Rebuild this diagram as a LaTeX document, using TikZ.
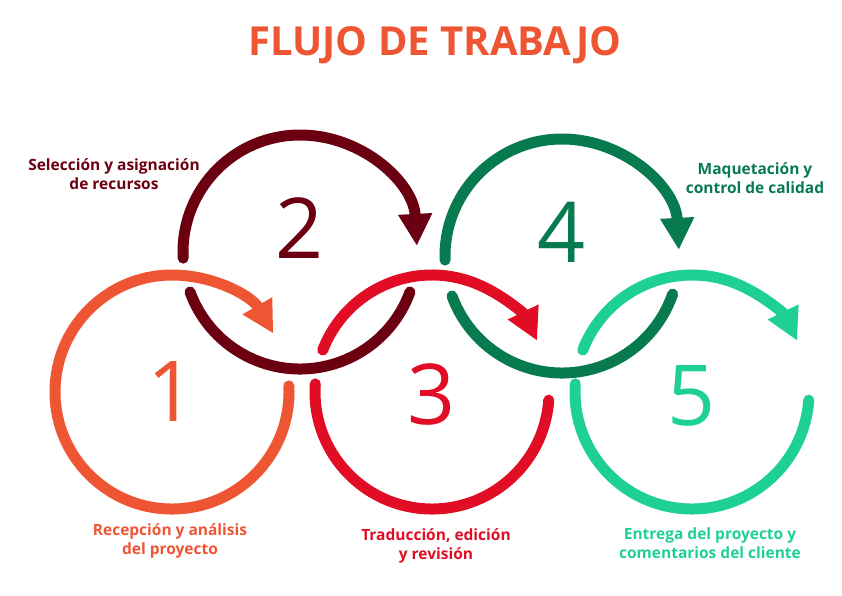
\documentclass[tikz,border=0pt]{standalone}
\usepackage{fontspec}
\setmainfont{Open Sans}
\usetikzlibrary{arrows.meta,calc}
\definecolor{cA}{HTML}{EE5533}
\definecolor{cB}{HTML}{6A0010}
\definecolor{cC}{HTML}{E00D24}
\definecolor{cD}{HTML}{087A50}
\definecolor{cE}{HTML}{1ED193}
\begin{document}
\begin{tikzpicture}[x=1pt,y=-1pt,
  ring/.style={line width=11pt,line cap=round},
  arr/.style={ring,-{Triangle[width=32pt,length=32pt]}},
  num/.style={font=\fontsize{84}{84}\selectfont},
  lab/.style={font=\fontsize{15.5}{19}\selectfont\bfseries,align=center}]
\useasboundingbox (0,0) rectangle (842,595);
\node[font=\fontsize{40}{42}\selectfont\bfseries,text=cA] (title) at (435,45) {FLUJO DE TRABAJO};
% centers
\coordinate (c1) at (172,392);
\coordinate (c2) at (300,252);
\coordinate (c3) at (432,392);
\coordinate (c4) at (562,256);
\coordinate (c5) at (692,392);
\def\R{117}
% circle 1
\draw[arr,cA] ($(c1)+(-3:\R)$) arc[start angle=-3,end angle=330,radius=\R];
% circle 2
\draw[arr,cB] ($(c2)+(177:\R)$) arc[start angle=177,end angle=357,radius=\R];
\draw[ring,cB] ($(c2)+(160:\R)$) arc[start angle=160,end angle=20,radius=\R];
% circle 3
\draw[arr,cC] ($(c3)+(201:\R)$) arc[start angle=201,end angle=334,radius=\R];
\draw[ring,cC] ($(c3)+(184:\R)$) arc[start angle=184,end angle=4,radius=\R];
% circle 4
\draw[arr,cD] ($(c4)+(178:\R)$) arc[start angle=178,end angle=357,radius=\R];
\draw[ring,cD] ($(c4)+(160:\R)$) arc[start angle=160,end angle=19,radius=\R];
% circle 5
\draw[arr,cE] ($(c5)+(201:\R)$) arc[start angle=201,end angle=334,radius=\R];
\draw[ring,cE] ($(c5)+(184:\R)$) arc[start angle=184,end angle=4,radius=\R];
% numbers
\node[num,text=cA] (n1) at (172,392) {1};
\node[num,text=cB] (n2) at (300,228) {2};
\node[num,text=cC] (n3) at (432,394) {3};
\node[num,text=cD] (n4) at (562,232) {4};
\node[num,text=cE] (n5) at (692,396) {5};
% labels
\node[lab,text=cB] (l2) at (114,174) {Selección y asignación\\de recursos};
\node[lab,text=cD] (l4) at (755,178) {Maquetación y\\control de calidad};
\node[lab,text=cA] (l1) at (170,541) {Recepción y análisis\\del proyecto};
\node[lab,text=cC] (l3) at (436,546) {Traducción, edición\\y revisión};
\node[lab,text=cE] (l5) at (710,543) {Entrega del proyecto y\\comentarios del cliente};
\end{tikzpicture}
\end{document}
